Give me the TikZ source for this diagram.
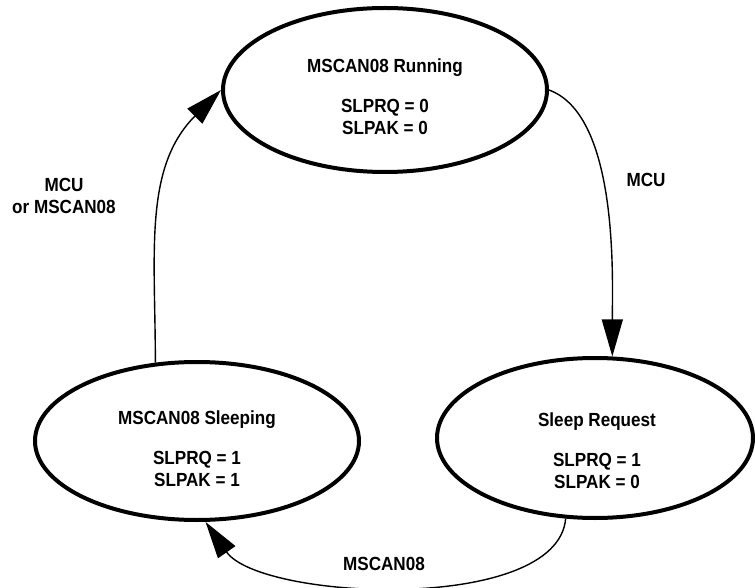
\documentclass[tikz,border=0pt]{standalone}
\usepackage{fontspec}
\setmainfont{Liberation Sans}[FakeStretch=0.9]
\usetikzlibrary{shapes.geometric,arrows.meta}

\tikzset{
    state/.style={draw,ellipse,line width=4pt,inner sep=0pt},
    statetext/.style={font=\bfseries\fontsize{19}{22}\selectfont,align=center},
    edgetext/.style={font=\bfseries\fontsize{19}{22.5}\selectfont,align=center},
    trans/.style={line width=1.4pt,-{Triangle[length=37pt,width=21pt]}},
}

\begin{document}
\begin{tikzpicture}[x=1pt,y=1pt]
    \useasboundingbox (0,0) rectangle (755,587);

    % the three states
    \node[state,minimum width=324pt,minimum height=164pt] (run) at (385,497) {};
    \node[state,minimum width=324pt,minimum height=158pt] (sleep) at (197,146) {};
    \node[state,minimum width=316pt,minimum height=160pt] (req) at (595,149) {};

    \node[statetext] (run-txt) at (385,490)
        {MSCAN08 Running\\[18pt]SLPRQ = 0\\SLPAK = 0};
    \node[statetext] (sleep-txt) at (197,138)
        {MSCAN08 Sleeping\\[18pt]SLPRQ = 1\\SLPAK = 1};
    \node[statetext] (req-txt) at (597,136)
        {Sleep Request\\[18pt]SLPRQ = 1\\SLPAK = 0};

    % transitions
    \draw[trans] (sleep.118) to[out=90,in=-135] (run.west);
    \draw[trans] (run.east) to[out=-20,in=90,looseness=0.7] (req.78);
    \draw[trans] (req.250) to[out=-95,in=-55,looseness=0.68] (sleep.-84);

    \node[edgetext] (lbl-wake) at (64,391) {MCU\\or MSCAN08};
    \node[edgetext] (lbl-req) at (646,407) {MCU};
    \node[edgetext] (lbl-ack) at (384,23) {MSCAN08};
\end{tikzpicture}
\end{document}
